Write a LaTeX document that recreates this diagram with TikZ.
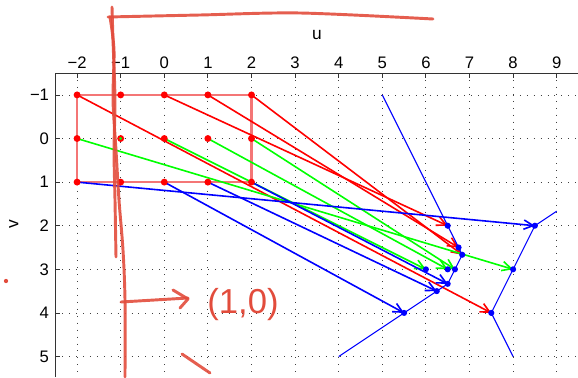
\documentclass[tikz,border=0pt]{standalone}
\usepackage{fontspec}
\setmainfont{Liberation Sans}
\usetikzlibrary{arrows.meta}
\definecolor{marker}{RGB}{226,76,60}
\definecolor{rectred}{RGB}{244,118,118}
\tikzset{
  grd/.style={black!75,line width=0.6pt,dash pattern=on 0.6pt off 4.6pt},
  axline/.style={black!80,line width=0.6pt},
  quiv/.style={line width=1.2pt,-{Straight Barb[length=7pt,width=7pt]}},
  pen/.style={marker,line width=2.2pt,line cap=round,line join=round,opacity=0.9},
  ticklab/.style={inner sep=0pt,font=\fontsize{12.5}{13}\selectfont},
}
\begin{document}
\begin{tikzpicture}[x=32.7pt,y=-32.7pt]
\useasboundingbox (-3.768,-3.177) coordinate(tl) rectangle (9.489,5.47) coordinate(br);
\foreach \u in {-2,...,9} \draw[grd] (\u,-1.5) -- (\u,5.47);
\foreach \v in {-1,...,5} \draw[grd] (-2.5,\v) -- (9.49,\v);
\draw[axline] (-2.5,5.47) -- (-2.5,-1.5) -- (9.49,-1.5);
\foreach \u/\lab in {-2/−2,-1/−1,0/0,1/1,2/2,3/3,4/4,5/5,6/6,7/7,8/8,9/9} {
  \draw[axline] (\u,-1.5) -- ++(0,0.115);
  \node[ticklab,anchor=south] (tu\u) at ([yshift=3pt]\u,-1.5) {\lab};
}
\foreach \v/\lab in {-1/−1,0/0,1/1,2/2,3/3,4/4,5/5} {
  \draw[axline] (-2.5,\v) -- ++(0.115,0);
  \node[ticklab,anchor=east] (tv\v) at ([xshift=-4.5pt]-2.5,\v) {\lab};
}
\node[font=\fontsize{13}{13}\selectfont] (ulab) at (3.5,-2.37) {u};
\node[font=\fontsize{13}{13}\selectfont,rotate=90] (vlab) at (-3.45,1.96) {v};
\draw[rectred,line width=1.6pt] (-2,-1) rectangle (2,1);
\foreach \y/\c [count=\j] in {-1/red,0/green,1/blue}
  \foreach \x [count=\i] in {-2,0,1,2} {
    \pgfmathsetmacro\uu{7-(1+\y/2)/(\x+1)}
    \pgfmathsetmacro\vv{3+\y/(\x+1)}
    \coordinate (src\i\j) at (\x,\y);
    \coordinate (img\i\j) at (\uu,\vv);
    \draw[quiv,\c] (src\i\j) -- (img\i\j);
  }
\foreach \x in {-2,...,2} \foreach \y in {-1,0,1} \fill[red] (\x,\y) circle (2.6pt);
\fill[green] (-1,0) circle (1.1pt);
\coordinate (ca) at (5,-1);
\coordinate (cb) at (4,5);
\coordinate (cc) at (9,1.6667);
\coordinate (cd) at (8,5);
\draw[blue,line width=0.8pt] (ca) -- (img21) -- (img31) -- (img41) -- (img42) -- (img43) -- (img33) -- (img23) -- (cb);
\draw[blue,line width=0.8pt] (cc) -- (img13) -- (img12) -- (img11) -- (cd);
\foreach \i in {1,...,4} \foreach \j in {1,2,3} \fill[blue] (img\i\j) circle (2.3pt);
\begin{scope}[shift={(tl)},x=0.75pt,y=-0.75pt]
  \draw[pen] plot[smooth] coordinates {(108,17) (200,15) (300,13) (433,19)};
  \draw[pen] plot[smooth] coordinates {(112,7) (113,40) (115,100) (114,150) (115,200) (116,257)};
  \draw[pen] plot[smooth] coordinates {(110,17) (114,50) (113,100) (116,150) (119,200) (123,250) (125,300) (125,377)};
  \draw[pen] (121,302) -- (188,298);
  \draw[pen] (173,290) -- (188,299) -- (180,308);
  \draw[pen] (182,354) -- (210,373);
  \fill[marker] (6,281) circle (1.6pt);
  \node[text=marker,font=\fontsize{26}{26}\selectfont] (pt) at (243,305) {(1,0)};
\end{scope}
\end{tikzpicture}
\end{document}
